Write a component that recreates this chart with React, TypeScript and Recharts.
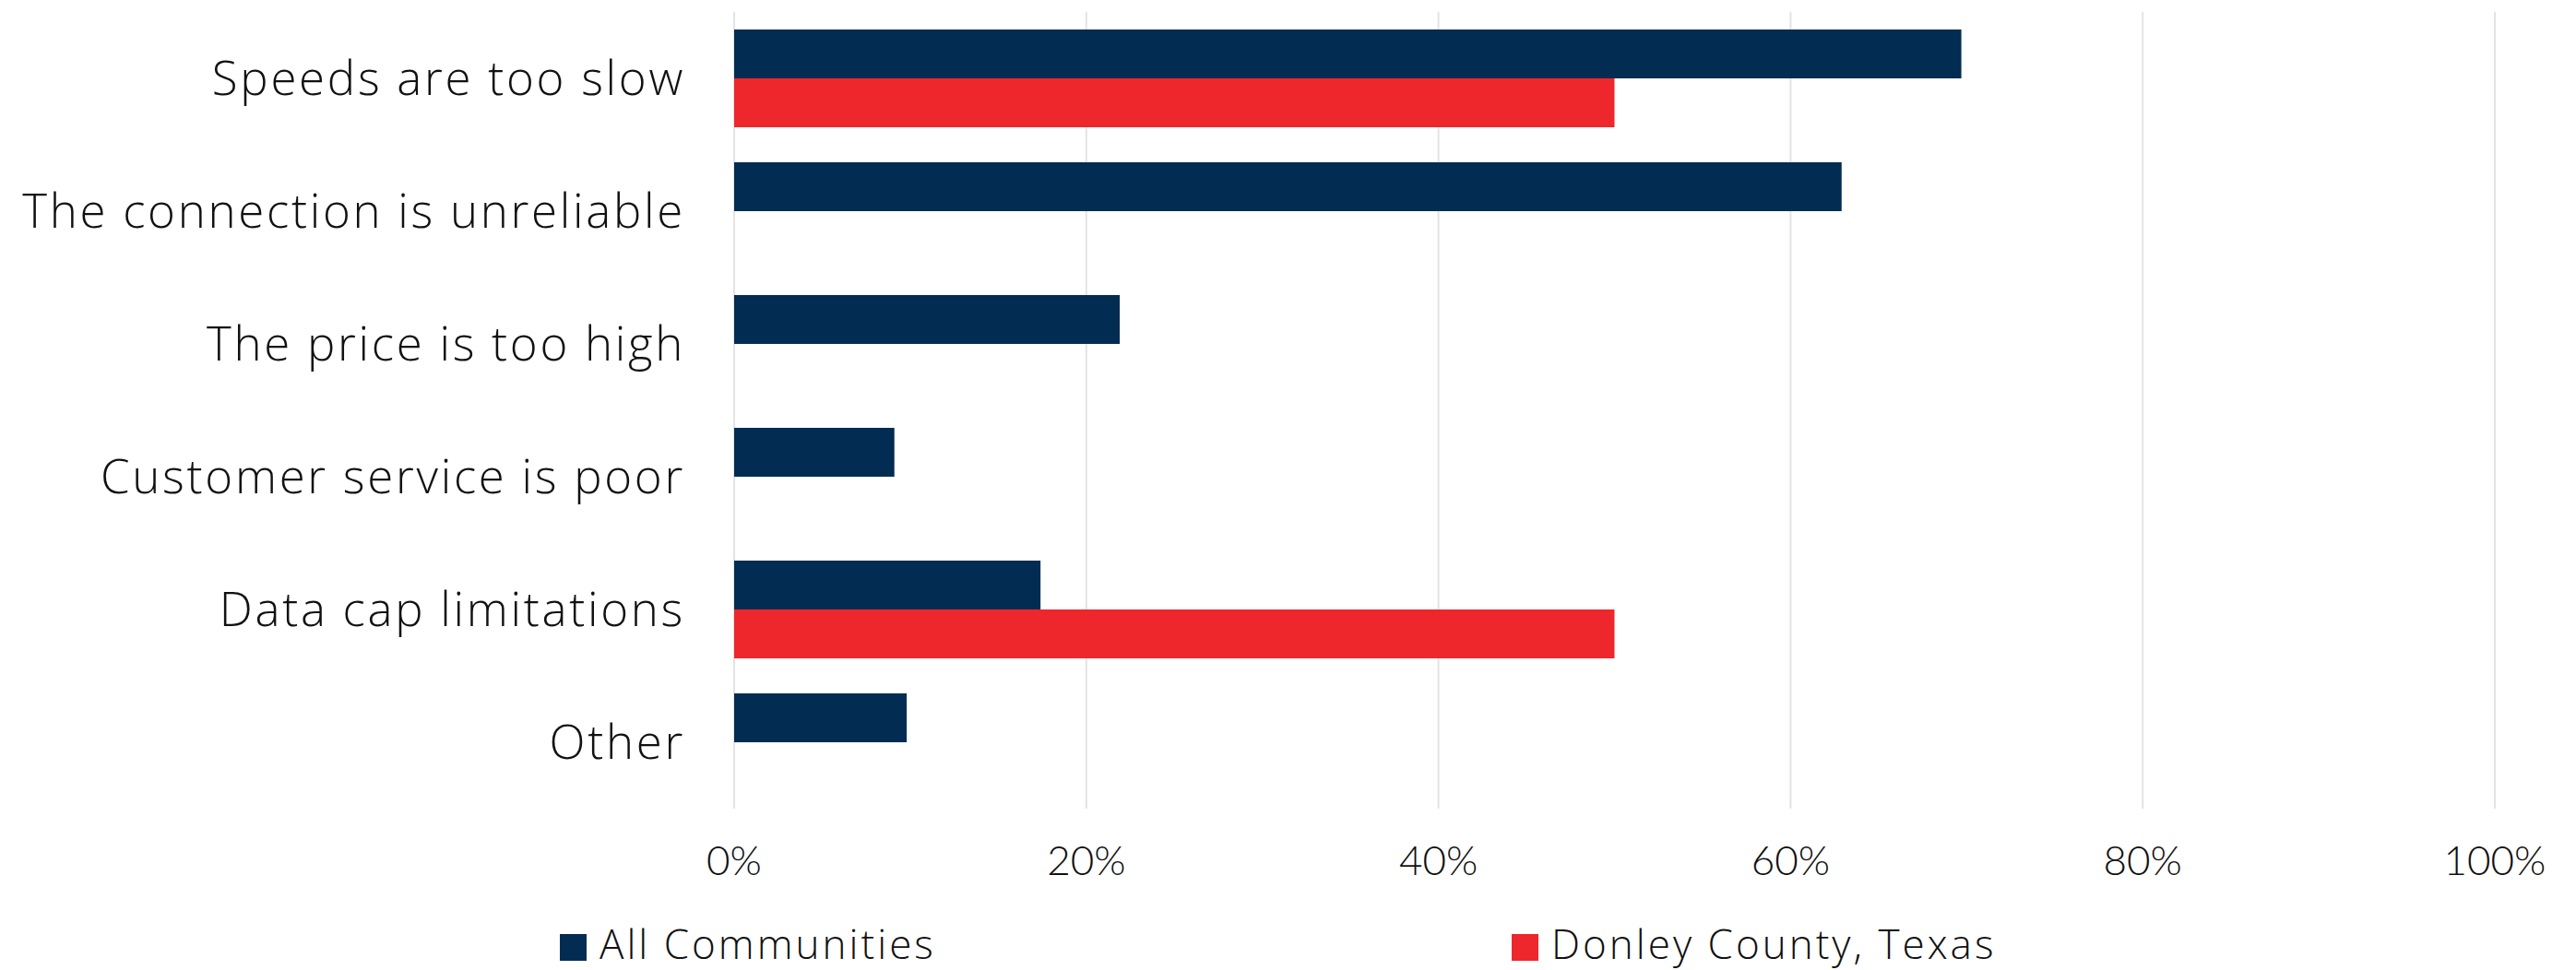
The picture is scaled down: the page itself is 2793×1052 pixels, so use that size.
import { BarChart, Bar, XAxis, YAxis, CartesianGrid } from "recharts"

const categories = [
  "Speeds are too slow",
  "The connection is unreliable",
  "The price is too high",
  "Customer service is poor",
  "Data cap limitations",
  "Other",
]
const allCommunities = [0.697, 0.629, 0.219, 0.091, 0.174, 0.098]
const donleyCounty = [0.5, 0, 0, 0, 0.5, 0]
const xTicks = [0, 0.2, 0.4, 0.6, 0.8, 1]

const NAVY = "#022C51"
const RED = "#EE272D"
const FONT = "Lato, 'Open Sans', sans-serif"
const WIDE_FONT = "'Open Sans', Lato, sans-serif"

const data = categories.map((name, i) => ({
  name,
  all: allCommunities[i],
  donley: donleyCounty[i],
}))

const legendItems = [
  { label: "All Communities", color: NAVY, left: 607 },
  { label: "Donley County, Texas", color: RED, left: 1639 },
]

export default function App() {
  return (
    <div
      style={{
        position: "absolute",
        left: 0,
        top: 0,
        width: 2793,
        height: 1052,
        background: "#fff",
        fontFamily: WIDE_FONT,
        overflow: "hidden",
      }}
    >
      <BarChart
        width={2793}
        height={1052}
        data={data}
        layout="vertical"
        barGap={0}
        barSize={53}
        margin={{ top: 13, right: 88, bottom: 105, left: 0 }}
      >
        <CartesianGrid horizontal={false} stroke="#E3E3E3" strokeWidth={2} />
        <XAxis
          type="number"
          domain={[0, 1]}
          ticks={xTicks}
          tickFormatter={(v: number) => `${Math.round(v * 100)}%`}
          axisLine={false}
          tickLine={false}
          tickSize={0}
          tickMargin={41}
          height={70}
          interval={0}
          tick={{ fill: "#111", fontSize: 44, fontFamily: FONT, fontWeight: 300 }}
        />
        <YAxis
          type="category"
          dataKey="name"
          width={796}
          axisLine={false}
          tickLine={false}
          tickSize={0}
          tickMargin={53}
          interval={0}
          tick={{
            fill: "#111",
            fontSize: 51,
            fontFamily: WIDE_FONT,
            fontWeight: 300,
            letterSpacing: 2.7,
          }}
        />
        <Bar dataKey="all" name="All Communities" fill={NAVY} isAnimationActive={false} />
        <Bar dataKey="donley" name="Donley County, Texas" fill={RED} isAnimationActive={false} />
      </BarChart>

      {/* legend row */}
      {legendItems.map((item) => (
        <div
          key={item.label}
          style={{
            position: "absolute",
            left: item.left,
            top: 1001,
            height: 44,
            lineHeight: "44px",
            display: "flex",
            alignItems: "center",
            fontSize: 44,
            fontWeight: 300,
            letterSpacing: 3,
            color: "#111",
            whiteSpace: "nowrap",
          }}
        >
          <span
            style={{
              display: "inline-block",
              width: 29,
              height: 29,
              background: item.color,
              marginRight: 14,
              marginTop: 8,
            }}
          />
          {item.label}
        </div>
      ))}
    </div>
  )
}
